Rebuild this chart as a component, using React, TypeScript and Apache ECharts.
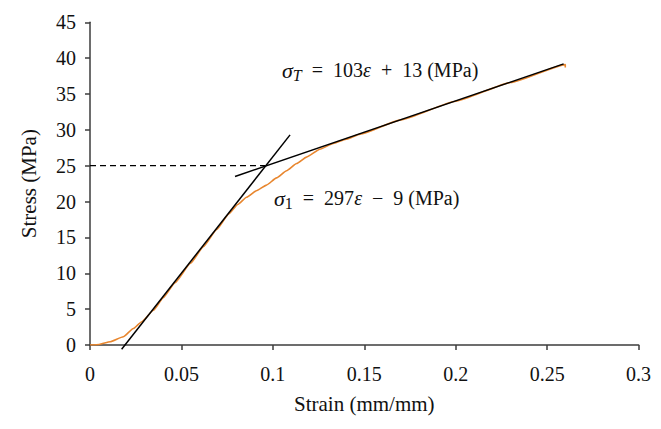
import React, { useEffect, useRef } from "react";
import * as echarts from "echarts";

// Measured stress–strain curve (orange)
const strain = [0, 0.005, 0.011, 0.0182, 0.0237, 0.0283, 0.0347, 0.0401, 0.0465, 0.055, 0.062, 0.0693, 0.076, 0.0808, 0.0856, 0.091, 0.0965, 0.102, 0.1075, 0.113, 0.1184, 0.1257, 0.133, 0.14, 0.1477, 0.17, 0.2, 0.23, 0.2599, 0.2599];
const stress = [0, 0.08, 0.45, 1.15, 2.3, 3.25, 4.85, 6.6, 8.7, 11.4, 13.7, 16.1, 18.3, 19.6, 20.6, 21.5, 22.3, 23.3, 24.3, 25.3, 26.2, 27.3, 28.1, 28.7, 29.4, 31.4, 34.0, 36.6, 39.1, 38.7];

// Fitted lines (black)
const steepFitStrain = [0.0173, 0.1094];
const steepFitStress = [-0.6, 29.3];
const flatFitStrain = [0.0793, 0.259];
const flatFitStress = [23.5, 39.2];

// Dashed guide at 25 MPa
const guideStrain = [0, 0.0957];
const guideStress = [25, 25];

const xTitle = "Strain (mm/mm)";
const yTitle = "Stress (MPa)";

const FONT = '"Liberation Serif", "Times New Roman", serif';
const AXIS_COLOR = "#3c3c3c";

const pairs = (xs: number[], ys: number[]) => xs.map((x, i) => [x, ys[i]]);

export default function App() {
  const ref = useRef<HTMLDivElement>(null);
  useEffect(() => {
    if (!ref.current) return;
    const chart = echarts.init(ref.current, null, { renderer: "svg" });
    const axisCommon = {
      type: "value" as const,
      splitLine: { show: false },
      axisLine: { show: true, lineStyle: { color: AXIS_COLOR, width: 1.5 } },
      axisTick: { show: true, inside: false, length: 5, lineStyle: { color: AXIS_COLOR, width: 1.5 } },
      axisLabel: { color: "#111", fontFamily: FONT, fontSize: 20 },
      nameLocation: "middle" as const,
      nameTextStyle: { color: "#111", fontFamily: FONT, fontSize: 21 },
    };
    const richBase = { fontFamily: FONT, fontSize: 20, fill: "#111", color: "#111", lineHeight: 26 };
    const rich = {
      it: { ...richBase, fontStyle: "italic" },
      big: { ...richBase, fontStyle: "italic", fontSize: 22 },
      n: { ...richBase },
      sub: { fontFamily: FONT, fontSize: 16, fill: "#111", color: "#111", lineHeight: 16, verticalAlign: "bottom" },
      subi: { fontFamily: FONT, fontSize: 16, fontStyle: "italic", fill: "#111", color: "#111", lineHeight: 16, verticalAlign: "bottom" },
    };
    chart.setOption({
      animation: false,
      backgroundColor: "#fff",
      grid: { left: 90, right: 22.4, top: 22.3, bottom: 84 },
      xAxis: {
        ...axisCommon,
        min: 0,
        max: 0.3,
        interval: 0.05,
        name: xTitle,
        nameGap: 48,
        axisLabel: { ...axisCommon.axisLabel, margin: 19 },
      },
      yAxis: {
        ...axisCommon,
        min: 0,
        max: 45,
        interval: 5,
        name: yTitle,
        nameGap: 51,
        axisLabel: { ...axisCommon.axisLabel, margin: 14 },
      },
      series: [
        {
          type: "line",
          data: pairs(strain, stress),
          smooth: 0.15,
          smoothMonotone: "x",
          symbol: "none",
          lineStyle: { color: "#E8862E", width: 1.6 },
          z: 2,
        },
        {
          type: "line",
          data: pairs(steepFitStrain, steepFitStress),
          symbol: "none",
          clip: false,
          lineStyle: { color: "#000", width: 1.5 },
          z: 3,
        },
        {
          type: "line",
          data: pairs(flatFitStrain, flatFitStress),
          symbol: "none",
          clip: false,
          lineStyle: { color: "#000", width: 1.5 },
          z: 3,
        },
        {
          type: "line",
          data: pairs(guideStrain, guideStress),
          symbol: "none",
          lineStyle: { color: "#000", width: 1.3, type: [6, 4] },
          z: 3,
        },
      ],
      graphic: [
        {
          type: "text",
          x: 282,
          y: 70,
          style: {
            text: "{big|σ}{subi|T}{n|  =  103}{it|ε}{n|  +  13 (MPa)}",
            rich,
            fill: "#111",
            font: `20px ${FONT}`,
            align: "left",
            verticalAlign: "middle",
          },
        },
        {
          type: "text",
          x: 274,
          y: 198,
          style: {
            text: "{big|σ}{sub|1}{n|  =  297}{it|ε}{n|  −  9 (MPa)}",
            rich,
            fill: "#111",
            font: `20px ${FONT}`,
            align: "left",
            verticalAlign: "middle",
          },
        },
      ],
    });
    return () => chart.dispose();
  }, []);
  return (
    <div
      ref={ref}
      style={{ position: "fixed", left: 0, top: 0, width: 661, height: 429, background: "#fff" }}
    />
  );
}
